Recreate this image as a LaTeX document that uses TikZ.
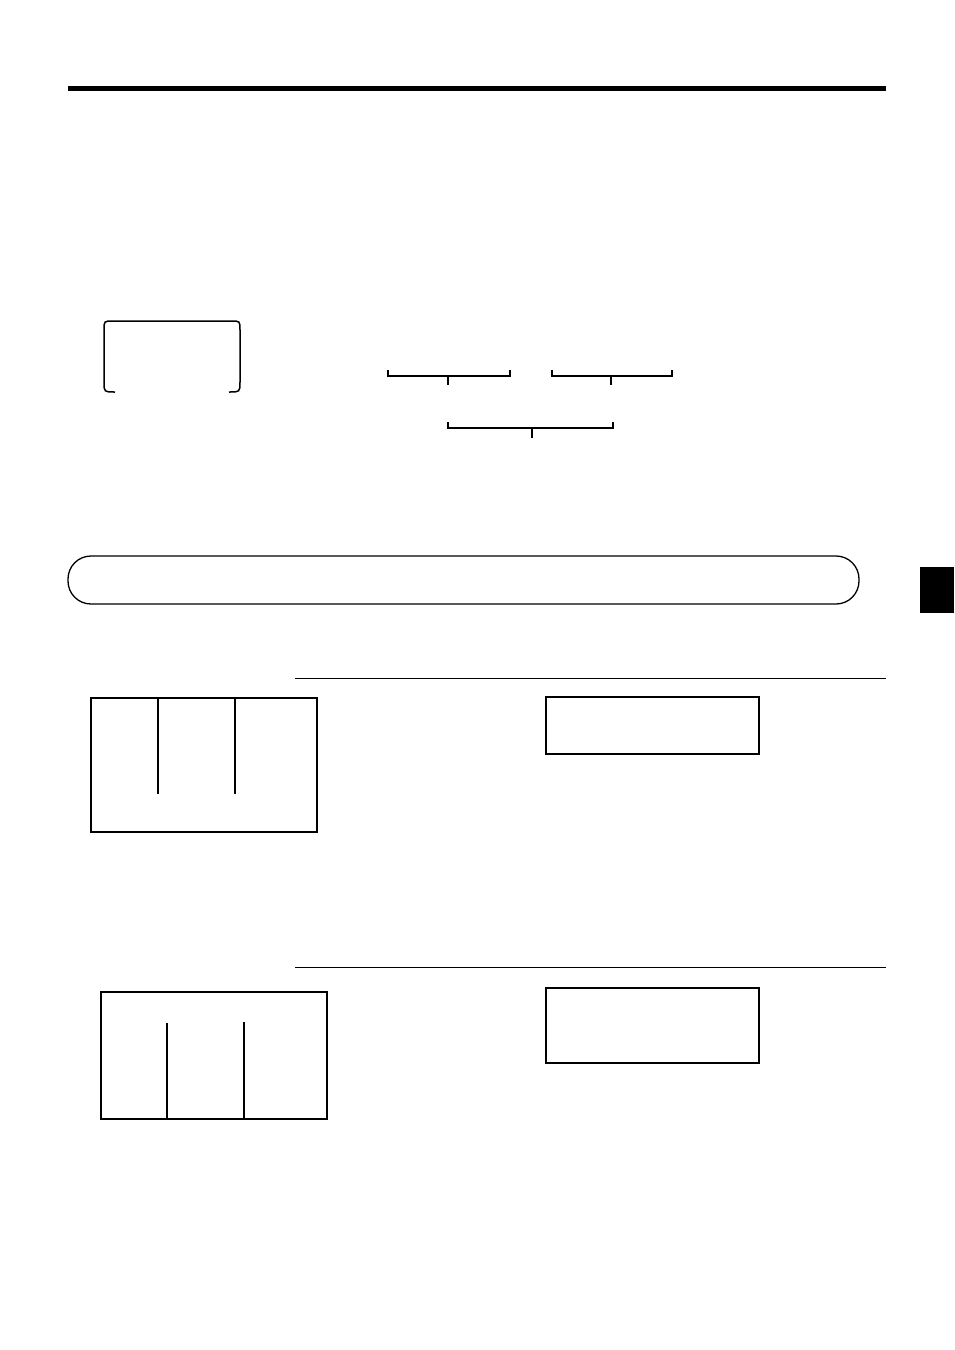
\documentclass[tikz,border=0pt]{standalone}
\begin{document}
\begin{tikzpicture}[x=1pt,y=-1pt,
  frame/.style={draw=black,line width=1.3pt},
  thinrule/.style={draw=black,line width=1pt},
  brace/.style={draw=black,line width=1.3pt}]
\useasboundingbox[fill=white] (0,0) rectangle (954,1350);
% top rule
\fill[black] (68,85.5) rectangle (886,90.5);
% top-left open-bottom rounded box
\draw[frame,line width=1.5pt] (115,392) .. controls (104,392) .. (104,382) -- (104,330) .. controls (104,321) .. (113,321) -- (231,321) .. controls (240,321) .. (240,330) -- (240,382) .. controls (240,392) .. (229,392);
% brackets
\draw[brace] (388,370) -- (388,376) -- (510,376) -- (510,370);
\draw[brace] (448,376) -- (448,385);
\draw[brace] (552,370) -- (552,376) -- (672,376) -- (672,370);
\draw[brace] (611,376) -- (611,385);
\draw[brace] (448,422) -- (448,428) -- (613,428) -- (613,422);
\draw[brace] (532,428) -- (532,438);
% pill
\draw[frame,rounded corners=23pt] (68,556) rectangle (859,604);
% side tab
\fill[black] (920,567) rectangle (954,613);
% section rules
\draw[thinrule] (295,678) -- (886,678);
\draw[thinrule] (295,967) -- (886,967);
% box A
\draw[frame] (91,698) rectangle (317,832);
\draw[frame] (158,698) -- (158,794);
\draw[frame] (235,698) -- (235,794);
% box C
\draw[frame] (546,697) rectangle (759,754);
% box B
\draw[frame,line width=1.6pt] (101,992) rectangle (327,1119);
\draw[frame] (167,1023) -- (167,1119);
\draw[frame] (244,1022) -- (244,1119);
% box D
\draw[frame] (546,988) rectangle (759,1063);
\end{tikzpicture}
\end{document}
